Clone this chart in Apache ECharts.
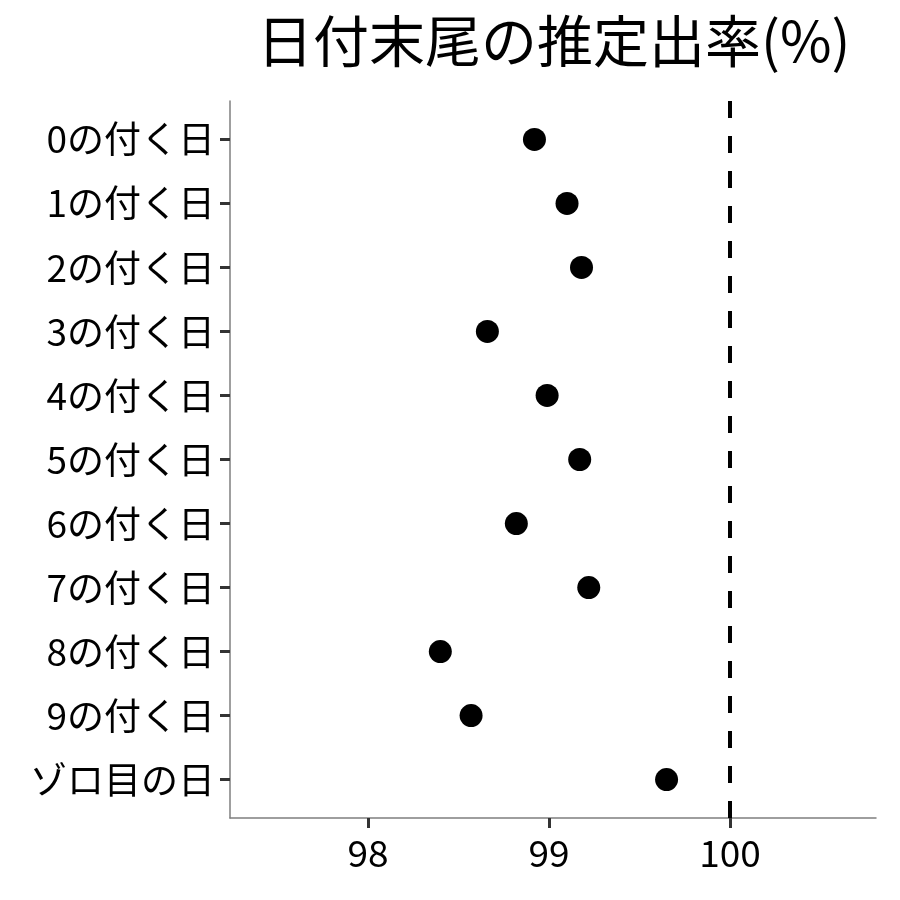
<!DOCTYPE html>
<html>
<head>
<meta charset="utf-8">
<script src="https://cdn.jsdelivr.net/npm/echarts@6/dist/echarts.min.js"></script>
<style>
  html, body { margin: 0; padding: 0; background: #fff; }
  #chart { width: 900px; height: 900px; }
</style>
</head>
<body>
<div id="chart"></div>
<script>
// カテゴリ (上から順)
const categories = [
  '0の付く日', '1の付く日', '2の付く日', '3の付く日', '4の付く日',
  '5の付く日', '6の付く日', '7の付く日', '8の付く日', '9の付く日', 'ゾロ目の日'
]
// 推定出率 (%)
const rates = [98.92, 99.10, 99.18, 98.66, 98.99, 99.17, 98.82, 99.22, 98.40, 98.57, 99.65]
const xTicks = [98, 99, 100]
const refLine = 100

const font = '"Noto Sans CJK JP", "Noto Sans", sans-serif'
const chart = echarts.init(document.getElementById('chart'))

chart.setOption({
  backgroundColor: '#fff',
  animation: false,
  title: {
    text: '日付末尾の推定出率(%)',
    left: 252,
    top: 8,
    textStyle: { fontFamily: font, fontSize: 56, fontWeight: 'normal', color: '#000' }
  },
  grid: { left: 230, right: 24, top: 101, bottom: 82 },
  xAxis: {
    type: 'value',
    min: 97.238,
    max: 100.807,
    splitLine: { show: false },
    axisLine: { onZero: false, lineStyle: { color: '#7f7f7f', width: 1.5 } },
    axisTick: { customValues: xTicks, length: 10, lineStyle: { color: '#333', width: 3 } },
    axisLabel: {
      customValues: xTicks,
      margin: 16,
      fontFamily: font,
      fontSize: 37,
      color: '#000'
    }
  },
  yAxis: {
    type: 'value',
    min: -0.6,
    max: 10.6,
    inverse: true,
    splitLine: { show: false },
    axisLine: { show: true, onZero: false, lineStyle: { color: '#7f7f7f', width: 1.5 } },
    axisTick: {
      show: true,
      customValues: categories.map((c, i) => i),
      length: 10,
      lineStyle: { color: '#333', width: 3 }
    },
    axisLabel: {
      customValues: categories.map((c, i) => i),
      formatter: v => categories[Math.round(v)],
      margin: 15,
      fontFamily: font,
      fontSize: 37,
      color: '#000'
    }
  },
  series: [{
    type: 'scatter',
    data: rates.map((r, i) => [r, i]),
    symbolSize: 23,
    itemStyle: { color: '#000', opacity: 1 },
    markLine: {
      silent: true,
      symbol: 'none',
      label: { show: false },
      lineStyle: { color: '#000', width: 4, type: [17, 18] },
      data: [{ xAxis: refLine }]
    }
  }]
})
</script>
</body>
</html>
